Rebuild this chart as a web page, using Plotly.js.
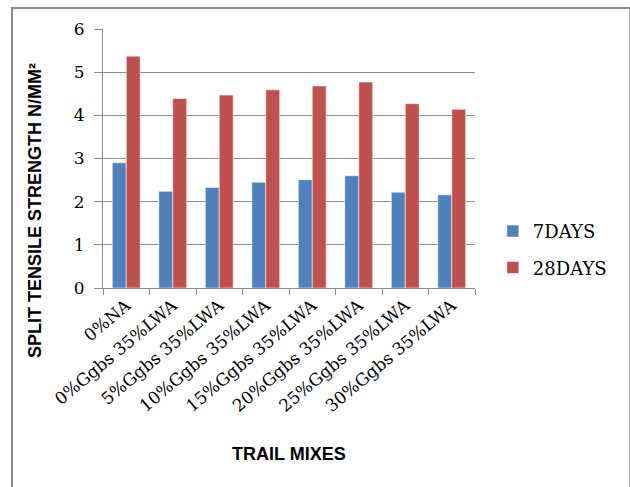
<!DOCTYPE html>
<html>
<head>
<meta charset="utf-8">
<script src="https://cdn.plot.ly/plotly-3.0.1.min.js"></script>
<style>
  html, body { margin: 0; padding: 0; background: #fff; }
  #chart { position: absolute; left: 0; top: 0; width: 630px; height: 487px; }
  #frame {
    position: absolute; left: 11px; top: 7px; width: 616px; height: 490px;
    border-left: 2px solid #8a8a8a; border-top: 2px solid #8a8a8a; border-right: 1px solid #b0b0b0;
    pointer-events: none;
  }
</style>
</head>
<body>
<div id="chart"></div>
<div id="frame"></div>
<script>
// Trail mixes and their split tensile strengths (N/mm²)
const mixes = [
  "0%NA",
  "0%Ggbs 35%LWA",
  "5%Ggbs 35%LWA",
  "10%Ggbs 35%LWA",
  "15%Ggbs 35%LWA",
  "20%Ggbs 35%LWA",
  "25%Ggbs 35%LWA",
  "30%Ggbs 35%LWA"
];
const days7 = [2.90, 2.24, 2.33, 2.45, 2.51, 2.60, 2.22, 2.16];
const days28 = [5.37, 4.39, 4.47, 4.59, 4.68, 4.77, 4.27, 4.14];
const seriesNames = ["7DAYS", "28DAYS"];
const yTicks = [0, 1, 2, 3, 4, 5, 6];

const serif = "DejaVu Serif";
const sans = "Liberation Sans";

const traces = [
  {
    type: "bar", name: seriesNames[0], x: mixes, y: days7, legendgroup: "a",
    marker: { color: "#4F81BD", line: { color: "rgba(255,255,255,0.55)", width: 1 } }
  },
  {
    type: "bar", name: seriesNames[1], x: mixes, y: days28, legendgroup: "b",
    marker: { color: "#C0504D", line: { color: "rgba(255,255,255,0.55)", width: 1 } }
  }
];

const layout = {
  width: 630, height: 487,
  margin: { l: 103, r: 155, t: 29, b: 199 },
  paper_bgcolor: "#fff", plot_bgcolor: "#fff",
  font: { family: serif, color: "#000" },
  barmode: "group", bargap: 0.4, bargroupgap: 0,
  showlegend: true,
  legend: {
    x: 1.048, xanchor: "left", y: 0.149, yanchor: "middle",
    font: { family: serif, size: 18, color: "#000" },
    tracegroupgap: 10, traceorder: "grouped", itemwidth: 30
  },
  xaxis: {
    type: "category",
    tickangle: -40,
    tickfont: { family: serif, size: 17, color: "#000" },
    showline: true, linecolor: "#8c8c8c", linewidth: 1,
    ticks: "outside", tickson: "boundaries", ticklen: 6, tickcolor: "#8c8c8c",
    showgrid: false, automargin: false
  },
  yaxis: {
    range: [0, 6], tickvals: yTicks,
    tickfont: { family: serif, size: 17, color: "#000" },
    showline: true, linecolor: "#8c8c8c", linewidth: 1,
    ticks: "outside", ticklen: 8, tickcolor: "#8c8c8c", ticklabelstandoff: 6,
    showgrid: true, gridcolor: "#8c8c8c", gridwidth: 1, zeroline: false,
    automargin: false
  },
  annotations: [
    {
      text: "<b>SPLIT TENSILE STRENGTH N/MM²</b>", textangle: -90,
      xref: "paper", yref: "paper", x: (35 - 103) / 372, y: (288 - 211) / 259,
      xanchor: "center", yanchor: "middle", showarrow: false,
      font: { family: sans, size: 18, color: "#000" }
    },
    {
      text: "<b>TRAIL MIXES</b>",
      xref: "paper", yref: "paper", x: (289 - 103) / 372, y: (288 - 454) / 259,
      xanchor: "center", yanchor: "middle", showarrow: false,
      font: { family: sans, size: 18, color: "#000" }
    }
  ]
};

Plotly.newPlot("chart", traces, layout, { staticPlot: true, displayModeBar: false });
</script>
</body>
</html>
